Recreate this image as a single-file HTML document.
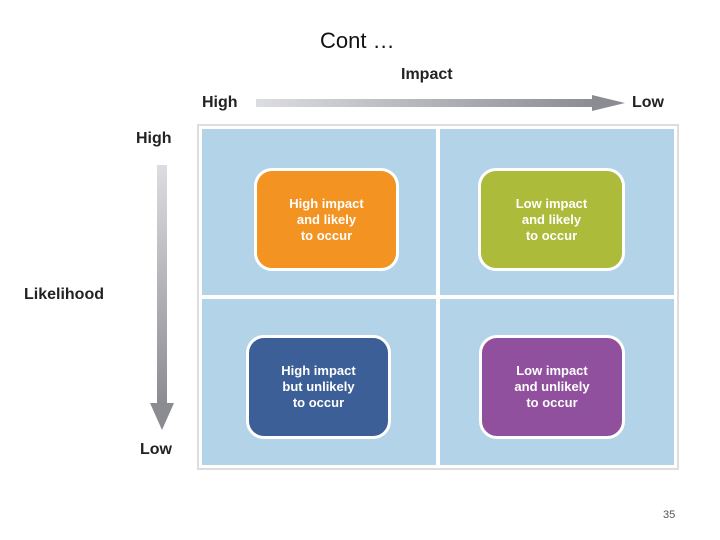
<!DOCTYPE html>
<html><head><style>
body{margin:0;width:720px;height:540px;background:#fff;position:relative;overflow:hidden;font-family:"Liberation Sans",sans-serif}
.a{position:absolute}
.lbl{font-weight:bold;font-size:16px;color:#222}
.box{position:absolute;border:3px solid #fff;border-radius:18px;color:#fff;font-weight:bold;font-size:13px;line-height:16px;text-align:center;display:flex;align-items:center;justify-content:center;box-sizing:border-box}
</style></head><body>
<div class="a" style="left:320px;top:28px;font-size:22px;font-family:'Liberation Sans',sans-serif;color:#111">Cont …</div>
<div class="a lbl" style="left:401px;top:66px">Impact</div>
<div class="a lbl" style="left:202px;top:94px">High</div>
<div class="a lbl" style="left:632px;top:94px">Low</div>
<div class="a lbl" style="left:136px;top:130px">High</div>
<div class="a lbl" style="left:24px;top:286px">Likelihood</div>
<div class="a lbl" style="left:140px;top:441px">Low</div>
<svg class="a" style="left:0;top:0" width="720" height="540">
<defs>
<linearGradient id="h" x1="0" x2="1"><stop offset="0" stop-color="#dcdde0"/><stop offset="1" stop-color="#8a8c92"/></linearGradient>
<linearGradient id="v" x1="0" x2="0" y1="0" y2="1"><stop offset="0" stop-color="#dcdde0"/><stop offset="1" stop-color="#8a8c92"/></linearGradient>
</defs>
<rect x="256" y="99" width="340" height="8" fill="url(#h)"/>
<polygon points="592,95 625,103 592,111" fill="#8a8c92"/>
<rect x="157" y="165" width="10" height="240" fill="url(#v)"/>
<polygon points="150,403 174,403 162,430" fill="#8a8c92"/>
<rect x="197" y="124" width="482" height="346" fill="#ddd"/>
<rect x="199" y="126" width="478" height="342" fill="#fff"/>
<rect x="202" y="129" width="234" height="166" fill="#b3d3e8"/>
<rect x="440" y="129" width="234" height="166" fill="#b3d3e8"/>
<rect x="202" y="299" width="234" height="166" fill="#b3d3e8"/>
<rect x="440" y="299" width="234" height="166" fill="#b3d3e8"/>
</svg>
<div class="box" style="left:254px;top:168px;width:145px;height:103px;background:#f39322">High impact<br>and likely<br>to occur</div>
<div class="box" style="left:478px;top:168px;width:147px;height:103px;background:#adbb3a">Low impact<br>and likely<br>to occur</div>
<div class="box" style="left:246px;top:335px;width:145px;height:104px;background:#3c5f98">High impact<br>but unlikely<br>to occur</div>
<div class="box" style="left:479px;top:335px;width:146px;height:104px;background:#91509e">Low impact<br>and unlikely<br>to occur</div>
<div class="a" style="left:663px;top:509px;font-size:11px;color:#555">35</div>
</body></html>
